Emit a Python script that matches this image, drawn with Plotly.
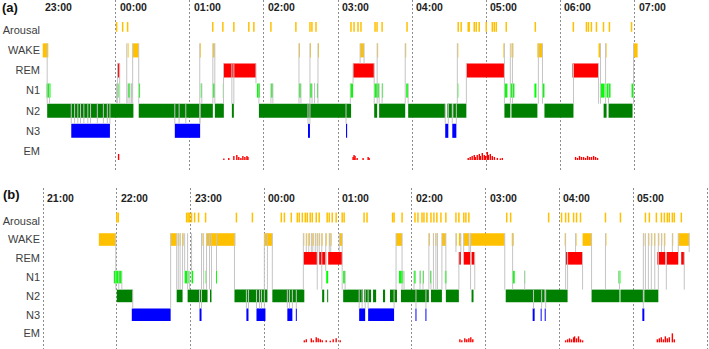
import plotly.graph_objects as go

# ---------------- shared definitions ----------------
ROW_LABELS = ["Arousal", "WAKE", "REM", "N1", "N2", "N3", "EM"]
ROW_LEVELS = [6, 5, 4, 3, 2, 1, 0]
LEVEL = dict(zip(ROW_LABELS, ROW_LEVELS))
STAGE_COLORS = {"WAKE": "#FFC000", "REM": "#FF0000", "N1": "#00FF00",
                "N2": "#008000", "N3": "#0000FF"}

# ---------------- panel (a): minutes after 23:00 ----------------
a_hours = [0, 60, 120, 180, 240, 300, 360, 420, 480]
a_hour_labels = ["23:00", "00:00", "01:00", "02:00", "03:00", "04:00", "05:00", "06:00", "07:00"]

a_wake = [[1.0, 5.5], [69.7, 70.5], [73.8, 78.7], [128.1, 128.9], [138.7, 140.3], [208.4, 209.2],
          [217.3, 218.1], [223.8, 224.6], [257.9, 261.1], [271.7, 272.5], [294.4, 295.2],
          [336.6, 337.4], [373.9, 374.7], [380.4, 382.0], [401.4, 405.5], [450.9, 452.5],
          [456.6, 457.4], [479.2, 482.5]]
a_rem = [[61.6, 63.3], [147.3, 173.6], [252.2, 269.3], [343.9, 374.7], [429.8, 450.9]]
a_n1 = [[4.1, 7.3], [60.8, 62.4], [70.0, 71.6], [72.8, 73.6], [79.0, 79.8],
        [128.9, 129.8], [138.7, 140.3], [146.8, 147.6], [174.4, 176.8], [185.7, 187.3],
        [208.4, 210.0], [217.3, 219.0], [220.6, 221.4], [223.0, 223.8], [249.8, 252.2],
        [269.3, 273.3], [275.7, 276.5], [295.2, 296.8], [336.6, 337.4], [374.7, 377.1],
        [379.5, 382.8], [399.0, 400.6], [405.5, 407.1], [452.5, 455.8], [457.4, 460.6],
        [477.6, 479.2]]
a_n2 = [[4.6, 74.4], [78.7, 138.7], [140.3, 147.6], [154.1, 155.7], [176.0, 250.6],
        [269.3, 271.7], [273.3, 294.4], [296.8, 326.8], [328.5, 332.5], [333.3, 343.9],
        [374.7, 379.5], [380.4, 401.4], [407.1, 430.6], [455.0, 457.4], [459.0, 478.4]]
a_n3 = [[24.1, 55.4], [107.9, 128.4], [215.7, 217.3], [246.5, 247.4], [326.8, 329.3], [332.5, 335.8]]

a_transitions = [
    (4.6, "WAKE", "N2"), (6.5, "N1", "N2"),
    (24.1, "N2", "N3"), (26.8, "N2", "N3"), (29.4, "N2", "N3"), (31.6, "N2", "N3"),
    (34.3, "N2", "N3"), (37.5, "N2", "N3"), (39.7, "N2", "N3"), (45.2, "N2", "N3"),
    (50.1, "N2", "N3"), (53.3, "N2", "N3"), (55.4, "N2", "N3"),
    (60.8, "N1", "N2"), (61.6, "REM", "N2"), (63.3, "REM", "N2"), (69.0, "WAKE", "N2"),
    (70.0, "N1", "N2"), (71.6, "N1", "N2"), (72.8, "N1", "N2"),
    (73.8, "WAKE", "N2"), (78.7, "WAKE", "N2"),
    (107.9, "N2", "N3"), (111.4, "N2", "N3"), (116.8, "N2", "N3"), (128.4, "N2", "N3"),
    (128.1, "WAKE", "N3"), (129.8, "N1", "N2"), (138.7, "WAKE", "N2"), (140.3, "WAKE", "N2"),
    (147.3, "REM", "N2"), (154.1, "REM", "N2"), (155.7, "REM", "N2"),
    (173.6, "REM", "N1"), (176.0, "N1", "N2"), (185.7, "N1", "N2"), (187.3, "N1", "N2"),
    (208.4, "WAKE", "N2"), (210.0, "N1", "N2"), (215.7, "N2", "N3"), (217.3, "WAKE", "N3"),
    (219.0, "N1", "N2"), (221.0, "N1", "N2"), (223.8, "WAKE", "N2"),
    (246.5, "N2", "N3"), (250.0, "N1", "N2"), (252.2, "REM", "N1"), (257.9, "WAKE", "REM"),
    (261.1, "WAKE", "REM"), (269.3, "REM", "N2"), (271.7, "WAKE", "N2"), (273.3, "N1", "N2"),
    (275.7, "N1", "N2"), (294.4, "WAKE", "N2"), (296.8, "N1", "N2"),
    (326.8, "N2", "N3"), (329.3, "N2", "N3"), (332.5, "N2", "N3"), (335.8, "N2", "N3"),
    (336.6, "WAKE", "N2"), (343.9, "REM", "N2"),
    (374.7, "WAKE", "N2"), (379.5, "WAKE", "N2"), (381.2, "WAKE", "N2"), (402.2, "WAKE", "N2"),
    (405.5, "WAKE", "N2"), (430.6, "REM", "N2"), (450.9, "REM", "N2"), (452.5, "WAKE", "N2"),
    (456.6, "WAKE", "N2"), (459.0, "N1", "N2"), (479.2, "WAKE", "N2"),
]

a_arousal = [60.8, 65.7, 69.7, 138.6, 146.8, 155.7, 167.8, 171.9, 185.7, 205.9, 217.3, 218.9,
             222.2, 250.5, 253.0, 256.2, 258.6, 270.0, 271.6, 275.7, 295.9, 337.3, 339.7,
             345.4, 346.2, 350.3, 351.9, 354.3, 360.0, 364.9, 366.5, 368.1, 376.2, 399.7,
             430.5, 441.1, 442.7, 445.1, 449.2, 454.9, 459.7, 477.6]

a_em_time = [62.4, 147.6, 151.6, 155.7, 158.1, 159.7, 161.4, 163.0, 164.6, 166.3, 167.1,
             252.2, 253.0, 253.8, 255.5, 260.3, 264.4, 265.2,
             345.4, 347.0, 348.6, 350.3, 351.1, 352.7, 354.4, 355.2, 356.8, 358.4, 359.3,
             360.9, 361.7, 363.3, 364.9, 366.6, 369.0, 371.4, 373.0,
             432.3, 433.9, 435.5, 437.1, 438.8, 440.4, 442.0, 443.6, 445.2, 446.9, 448.5, 450.1]
a_em_amp = [6, 1.5, 2, 4, 5, 3, 2, 4, 3, 4, 3,
            3, 5, 4, 2, 2, 3, 2,
            2, 3, 4, 5, 3, 5, 6, 4, 7, 5, 4,
            8, 5, 6, 4, 3, 2, 1.5, 2,
            3, 2, 4, 3, 3, 2, 4, 3, 3, 4, 3, 2]

# ---------------- panel (b): minutes after 21:00 ----------------
b_hours = [0, 60, 120, 180, 240, 300, 360, 420, 480, 540]
b_hour_labels = ["21:00", "22:00", "23:00", "00:00", "01:00", "02:00", "03:00", "04:00", "05:00", "06:00"]

b_wake = [[45.4, 59.2], [103.8, 108.7], [109.5, 110.3], [111.1, 111.9], [113.5, 114.4],
          [128.9, 129.8], [133.0, 156.5], [180.0, 186.5], [211.7, 212.5], [214.1, 214.9],
          [216.2, 217.0], [218.2, 219.0], [219.4, 220.2], [221.4, 222.2], [223.0, 223.8],
          [224.6, 225.4], [226.6, 227.4], [229.9, 230.7], [232.7, 233.5], [233.9, 234.7],
          [240.9, 243.3], [287.1, 292.0], [313.8, 314.6], [317.1, 317.9], [319.1, 319.9],
          [320.3, 321.2], [324.4, 327.6], [335.7, 336.5], [338.2, 339.8], [342.1, 346.5],
          [347.7, 375.5], [381.2, 382.8], [424.2, 425.0], [433.1, 433.9], [438.8, 446.1],
          [457.4, 458.2], [488.2, 489.0], [492.3, 493.1], [494.7, 495.5], [497.1, 497.9],
          [500.4, 501.2], [502.8, 503.6], [505.3, 506.1], [511.7, 512.5], [516.6, 525.5]]
b_rem = [[211.7, 223.0], [224.6, 230.3], [231.9, 243.3], [338.2, 339.8], [342.1, 347.7],
         [348.5, 351.1], [425.0, 438.8], [499.6, 506.1], [506.9, 516.6], [519.0, 521.5]]
b_n1 = [[57.6, 64.1], [115.2, 118.4], [120.8, 122.1], [132.2, 133.0], [140.7, 141.5],
        [230.3, 231.9], [244.1, 245.7], [289.5, 293.0], [301.7, 303.0], [306.4, 307.2],
        [309.0, 309.8], [314.7, 315.7], [326.8, 328.1], [381.9, 383.6], [391.3, 392.1],
        [467.9, 469.6]]
b_n2 = [[60.0, 73.0], [108.7, 113.5], [117.6, 133.8], [135.8, 137.0], [155.7, 182.5],
        [186.5, 212.5], [227.0, 228.7], [231.1, 231.9], [244.1, 260.3], [261.1, 266.8],
        [268.4, 270.9], [276.5, 278.2], [282.2, 287.9], [291.1, 313.8], [315.5, 324.4],
        [327.6, 338.2], [348.5, 350.1], [376.3, 407.9], [408.7, 426.6], [446.1, 468.8],
        [469.6, 488.2], [489.0, 500.4]]
b_n3 = [[72.2, 103.8], [127.3, 128.9], [165.4, 167.1], [173.6, 180.9], [198.7, 202.8],
        [205.6, 206.4], [257.1, 262.0], [264.4, 285.5], [302.9, 303.7], [311.0, 311.8],
        [398.2, 399.8], [404.7, 405.5], [408.0, 408.8], [487.4, 489.0]]

b_transitions = [
    (59.2, "WAKE", "N2"), (61.6, "N1", "N2"), (64.1, "N1", "N2"), (73.0, "N2", "N3"),
    (103.8, "WAKE", "N3"), (108.7, "WAKE", "N2"), (110.0, "WAKE", "N2"), (111.5, "WAKE", "N2"),
    (113.5, "WAKE", "N2"), (115.2, "WAKE", "N1"), (117.6, "WAKE", "N2"), (119.2, "N1", "N2"),
    (120.8, "WAKE", "N1"), (127.3, "N2", "N3"), (128.9, "WAKE", "N3"), (130.6, "WAKE", "N2"),
    (133.0, "WAKE", "N2"), (135.4, "WAKE", "N2"), (137.0, "WAKE", "N2"), (141.1, "WAKE", "N1"),
    (155.7, "WAKE", "N2"), (165.4, "N2", "N3"), (167.1, "N2", "N3"), (173.6, "N2", "N3"),
    (176.1, "N2", "N3"), (177.7, "N2", "N3"), (180.0, "WAKE", "N3"), (182.5, "WAKE", "N2"),
    (186.5, "WAKE", "N2"),
    (198.7, "N2", "N3"), (200.4, "N2", "N3"), (202.8, "N2", "N3"), (206.0, "N2", "N3"),
    (211.7, "WAKE", "N2"), (214.1, "WAKE", "REM"), (216.1, "WAKE", "REM"), (218.2, "WAKE", "REM"),
    (219.4, "WAKE", "REM"), (221.4, "WAKE", "REM"), (223.0, "WAKE", "N2"), (224.6, "WAKE", "REM"),
    (226.7, "WAKE", "N2"), (229.9, "WAKE", "N1"), (232.8, "WAKE", "REM"), (234.0, "WAKE", "REM"),
    (240.9, "WAKE", "REM"), (243.3, "WAKE", "N2"), (245.7, "N1", "N2"),
    (257.1, "N2", "N3"), (259.5, "N2", "N3"), (262.0, "N2", "N3"), (264.4, "N2", "N3"),
    (285.5, "N2", "N3"), (287.1, "WAKE", "N2"), (292.0, "WAKE", "N2"), (293.6, "N1", "N2"),
    (301.7, "N1", "N2"), (303.3, "N2", "N3"), (306.6, "N1", "N2"), (309.0, "N1", "N2"),
    (311.4, "N2", "N3"), (313.8, "WAKE", "N2"), (315.5, "N1", "N2"), (317.5, "WAKE", "N2"),
    (319.5, "WAKE", "N2"), (320.8, "WAKE", "N2"), (324.4, "WAKE", "N2"), (327.6, "WAKE", "N2"),
    (335.8, "WAKE", "REM"), (338.2, "REM", "N2"), (339.8, "WAKE", "REM"), (342.1, "WAKE", "REM"),
    (346.5, "WAKE", "REM"), (347.7, "WAKE", "N2"), (351.1, "REM", "N2"), (375.5, "WAKE", "N2"),
    (381.9, "WAKE", "N2"), (391.7, "N1", "N2"), (398.9, "N2", "N3"), (405.5, "N2", "N3"),
    (408.8, "N2", "N3"),
    (425.0, "WAKE", "N2"), (426.6, "REM", "N2"), (433.1, "WAKE", "REM"), (438.8, "REM", "N2"),
    (446.1, "WAKE", "N2"), (457.4, "WAKE", "N2"), (468.8, "N1", "N2"), (488.2, "WAKE", "N3"),
    (489.9, "WAKE", "N2"), (492.3, "WAKE", "N2"), (494.7, "WAKE", "N2"), (497.5, "WAKE", "N2"),
    (500.4, "WAKE", "N2"), (502.9, "WAKE", "REM"), (505.3, "WAKE", "REM"), (506.9, "REM", "N2"),
    (511.8, "WAKE", "REM"), (516.6, "WAKE", "REM"), (521.5, "REM", "N2"), (525.5, "WAKE", "REM"),
]

b_arousal = [60.0, 61.2, 116.8, 118.0, 119.2, 120.8, 123.3, 126.5, 132.2, 157.3, 170.3, 193.8,
             196.3, 201.9, 206.8, 208.4, 210.9, 213.3, 214.9, 217.3, 219.0, 222.2, 224.6,
             231.1, 232.8, 235.2, 238.4, 243.3, 244.9, 261.1, 263.5, 284.3, 285.5, 292.0,
             302.5, 304.9, 308.2, 309.8, 312.2, 315.5, 317.9, 320.3, 323.6, 327.6, 335.8,
             338.2, 342.2, 343.9, 346.3, 377.1, 380.3, 411.2, 421.7, 425.0, 427.4, 431.5,
             433.9, 437.1, 457.4, 469.6, 489.9, 493.1, 498.8, 502.9, 505.3, 507.7, 509.3,
             511.8, 513.4, 519.1]

b_em_time = [212.5, 214.1, 218.2, 219.8, 222.2, 223.8, 225.5, 227.1, 230.3, 233.6, 236.0,
             238.4, 241.7, 339.0, 340.6, 343.0, 344.6, 346.3, 347.9, 349.5,
             425.0, 426.6, 428.2, 429.8, 431.5, 432.3, 433.9, 435.5, 437.1, 438.8,
             499.6, 501.2, 502.8, 504.5, 506.1, 507.7, 509.3, 511.8, 513.4]
b_em_amp = [2, 3, 4, 2, 5, 4, 3, 2, 2, 1.5, 3,
            4, 2, 3, 2, 4, 3, 4, 5, 3,
            2, 3, 4, 3, 5, 6, 4, 6, 3, 2,
            3, 4, 5, 3, 6, 4, 5, 9, 3]


def add_panel(fig, xa, ya, stages, transitions, arousal, em_time, em_amp,
              bar_width, em_base, em_scale):
    # stage bars
    for name, intervals in stages:
        fig.add_trace(go.Bar(
            orientation="h",
            base=[s for s, e in intervals],
            x=[e - s for s, e in intervals],
            y=[LEVEL[name]] * len(intervals),
            width=bar_width,
            marker=dict(color=STAGE_COLORS[name], line=dict(width=0)),
            xaxis=xa, yaxis=ya, hoverinfo="skip", showlegend=False))
    # gray transition lines, drawn from the top edge of one stage bar to the top edge of the next
    half = bar_width / 2
    tx, ty = [], []
    for t, up, lo in transitions:
        tx += [t, t, None]
        ty += [LEVEL[up] + half, LEVEL[lo] + half, None]
    fig.add_trace(go.Scatter(x=tx, y=ty, mode="lines",
                             line=dict(color="rgb(196,196,196)", width=1),
                             xaxis=xa, yaxis=ya, hoverinfo="skip", showlegend=False))
    # arousal ticks
    fig.add_trace(go.Scatter(x=arousal, y=[LEVEL["Arousal"] + 0.17] * len(arousal),
                             mode="markers",
                             marker=dict(symbol="line-ns", size=7,
                                         line=dict(color="#FFC000", width=1.5)),
                             xaxis=xa, yaxis=ya, hoverinfo="skip", showlegend=False))
    # eye-movement spikes
    ex, ey = [], []
    for t, a in zip(em_time, em_amp):
        ex += [t, t, None]
        ey += [em_base, em_base + a * em_scale, None]
    fig.add_trace(go.Scatter(x=ex, y=ey, mode="lines",
                             line=dict(color="#FF0000", width=1.4),
                             xaxis=xa, yaxis=ya, hoverinfo="skip", showlegend=False))


fig = go.Figure()
add_panel(fig, "x", "y",
          [("WAKE", a_wake), ("REM", a_rem), ("N1", a_n1), ("N2", a_n2), ("N3", a_n3)],
          a_transitions, a_arousal, a_em_time, a_em_amp,
          bar_width=0.7, em_base=-0.45, em_scale=1 / 20.1)
add_panel(fig, "x2", "y2",
          [("WAKE", b_wake), ("REM", b_rem), ("N1", b_n1), ("N2", b_n2), ("N3", b_n3)],
          b_transitions, b_arousal, b_em_time, b_em_amp,
          bar_width=0.67, em_base=-0.47, em_scale=1 / 18.8)

a_range = [-0.4, 540.3]
b_range = [-1.63, 541.6]

grid_common = dict(showticklabels=False, ticks="", showgrid=True, gridcolor="#8c8c8c",
                   gridwidth=1, griddash="2px,2px", zeroline=False, showline=False,
                   fixedrange=True, automargin=False)
y_common = dict(tickvals=ROW_LEVELS, ticktext=ROW_LABELS, showgrid=False, zeroline=False,
                showline=False, ticks="", fixedrange=True, automargin=False,
                tickfont=dict(family="Liberation Sans, Arial, sans-serif", size=11, color="#404040"))

fig.update_layout(
    width=709, height=349,
    margin=dict(l=41, r=0, t=0, b=0, autoexpand=False),
    paper_bgcolor="white", plot_bgcolor="white",
    barmode="overlay", showlegend=False,
    xaxis=dict(domain=[0, 1], anchor="y", range=a_range, tickvals=a_hours, **grid_common),
    yaxis=dict(domain=[0.5129, 1], anchor="x", range=[-0.95, 7.507], **y_common),
    xaxis2=dict(domain=[0, 1], anchor="y2", range=b_range, tickvals=b_hours, **grid_common),
    yaxis2=dict(domain=[0, 0.4613], anchor="x2", range=[-0.824, 7.74], **y_common),
)

hour_font = dict(family="Liberation Sans, Arial, sans-serif", size=10.5, color="#222222")
annotations = []
for hv, lab in zip(a_hours, a_hour_labels):
    if hv < a_range[1] - 20:
        annotations.append(dict(x=hv, y=1 - 7.5 / 349, xref="x", yref="paper", text="<b>%s</b>" % lab,
                                showarrow=False, xanchor="left", yanchor="middle", xshift=2,
                                font=hour_font))
for hv, lab in zip(b_hours, b_hour_labels):
    if hv < b_range[1] - 20:
        annotations.append(dict(x=hv, y=1 - 198.3 / 349, xref="x2", yref="paper", text="<b>%s</b>" % lab,
                                showarrow=False, xanchor="left", yanchor="middle", xshift=2,
                                font=hour_font))
panel_font = dict(family="Liberation Sans, Arial, sans-serif", size=13, color="#111111")
annotations.append(dict(x=-41 / 668, y=1 - 7.5 / 349, xref="paper", yref="paper", text="<b>(a)</b>",
                        showarrow=False, xanchor="left", yanchor="middle", font=panel_font))
annotations.append(dict(x=-40 / 668, y=1 - 194 / 349, xref="paper", yref="paper", text="<b>(b)</b>",
                        showarrow=False, xanchor="left", yanchor="middle", font=panel_font))
fig.update_layout(annotations=annotations)

fig.write_html("out.html", config={"displayModeBar": False, "staticPlot": True},
               post_script="document.body.style.margin='0px';document.body.style.padding='0px';")
